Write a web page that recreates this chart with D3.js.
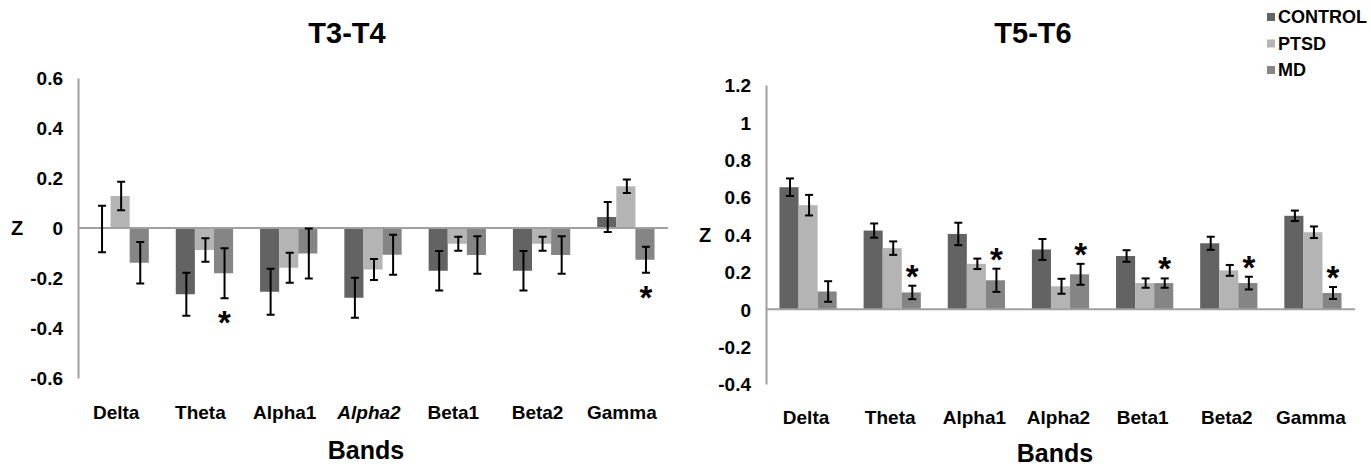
<!DOCTYPE html>
<html>
<head>
<meta charset="utf-8">
<script src="https://cdn.jsdelivr.net/npm/d3@7"></script>
<style>
  body { margin: 0; background: #fff; }
  svg text { font-family: "Liberation Sans", Arial, sans-serif; font-weight: bold; fill: #000; }
</style>
</head>
<body>
<svg id="viz" width="1371" height="467"></svg>
<script>
// Data
let bands = ['Delta', 'Theta', 'Alpha1', 'Alpha2', 'Beta1', 'Beta2', 'Gamma']
let groups = ['CONTROL', 'PTSD', 'MD']
let groupColors = ['#636363', '#b4b4b4', '#858585']

// T3-T4
let t34Control = [-0.004, -0.265, -0.255, -0.279, -0.171, -0.171, 0.044]
let t34ControlErr = [0.093, 0.086, 0.092, 0.08, 0.079, 0.079, 0.06]
let t34Ptsd = [0.128, -0.088, -0.159, -0.166, -0.063, -0.063, 0.167]
let t34PtsdErr = [0.057, 0.047, 0.06, 0.042, 0.028, 0.028, 0.027]
let t34Md = [-0.139, -0.181, -0.102, -0.107, -0.108, -0.108, -0.127]
let t34MdErr = [0.083, 0.1, 0.1, 0.08, 0.075, 0.075, 0.052]
let t34Stars = ['Theta', 'Gamma']
let t34Ticks = [0.6, 0.4, 0.2, 0, -0.2, -0.4, -0.6]

// T5-T6
let t56Control = [0.653, 0.421, 0.403, 0.32, 0.285, 0.353, 0.5]
let t56ControlErr = [0.047, 0.038, 0.06, 0.056, 0.031, 0.035, 0.028]
let t56Ptsd = [0.557, 0.327, 0.243, 0.123, 0.14, 0.208, 0.412]
let t56PtsdErr = [0.055, 0.036, 0.028, 0.04, 0.025, 0.029, 0.031]
let t56Md = [0.095, 0.09, 0.155, 0.187, 0.14, 0.14, 0.087]
let t56MdErr = [0.055, 0.036, 0.062, 0.056, 0.025, 0.034, 0.032]
let t56Stars = ['Theta', 'Alpha1', 'Alpha2', 'Beta1', 'Beta2', 'Gamma']
let t56Ticks = [1.2, 1, 0.8, 0.6, 0.4, 0.2, 0, -0.2, -0.4]

var svg = d3.select('#viz')

// draws one panel; cfg holds layout only, values come from the arrays above
let drawPanel = (cfg) => {
    let values = [cfg.control, cfg.ptsd, cfg.md]
    let errs = [cfg.controlErr, cfg.ptsdErr, cfg.mdErr]

    let rows = []
    bands.forEach((b, i) => {
        groups.forEach((g, j) => {
            rows.push({band: b, group: g, value: values[j][i], err: errs[j][i], gi: j})
        })
    })

    var x = d3.scaleBand()
        .domain(bands)
        .range([cfg.left, cfg.right])
        .paddingInner(0.32)
        .paddingOuter(0.16)

    var xSub = d3.scaleBand()
        .domain(groups)
        .range([0, x.bandwidth()])

    var y = d3.scaleLinear()
        .domain(cfg.domain)
        .range([cfg.bottom, cfg.top])

    var g = svg.append('g')

    // y axis
    var yAxis = d3.axisLeft(y)
        .tickValues(cfg.ticks)
        .tickFormat(d => d3.format('')(d).replace('\u2212', '-'))
        .tickSize(0)
        .tickSizeOuter(0)
        .tickPadding(15)

    var ay = g.append('g')
        .attr('transform', 'translate(' + cfg.left + ',0)')
        .call(yAxis)
    ay.select('.domain').attr('stroke', '#a0a0a0').attr('stroke-width', 2)
    ay.selectAll('text')
        .style('font-size', '19px')
        .attr('fill', '#000')
        .attr('dy', '0.36em')

    // bars
    g.selectAll('rect.bar')
        .data(rows)
        .enter()
        .append('rect')
        .attr('class', 'bar')
        .attr('x', d => x(d.band) + xSub(d.group))
        .attr('width', xSub.bandwidth())
        .attr('y', d => y(Math.max(0, d.value)))
        .attr('height', d => Math.abs(y(d.value) - y(0)))
        .attr('fill', d => groupColors[d.gi])

    // zero line
    g.append('line')
        .attr('x1', cfg.left).attr('x2', cfg.right)
        .attr('y1', y(0)).attr('y2', y(0))
        .attr('stroke', '#a0a0a0')
        .attr('stroke-width', 2)

    // error bars
    var eb = g.selectAll('g.err')
        .data(rows)
        .enter()
        .append('g')
        .attr('class', 'err')
        .attr('stroke', '#000')
        .attr('stroke-width', 2)
    let cx = d => x(d.band) + xSub(d.group) + xSub.bandwidth() / 2 + 1
    eb.append('line')
        .attr('x1', cx).attr('x2', cx)
        .attr('y1', d => y(d.value + d.err))
        .attr('y2', d => y(d.value - d.err))
    eb.append('line')
        .attr('x1', d => cx(d) - 4).attr('x2', d => cx(d) + 4)
        .attr('y1', d => y(d.value + d.err)).attr('y2', d => y(d.value + d.err))
    eb.append('line')
        .attr('x1', d => cx(d) - 4).attr('x2', d => cx(d) + 4)
        .attr('y1', d => y(d.value - d.err)).attr('y2', d => y(d.value - d.err))

    // significance stars on the MD bars
    let starRows = rows.filter(d => d.group === 'MD' && cfg.stars.includes(d.band))
    g.selectAll('text.star')
        .data(starRows)
        .enter()
        .append('text')
        .attr('class', 'star')
        .attr('x', d => cx(d))
        .attr('y', d => d.value < 0 ? y(d.value - d.err) + 17 + 19 : y(d.value + d.err) - 17 + 19)
        .attr('text-anchor', 'middle')
        .style('font-size', '33px')
        .text('*')

    // category labels
    g.selectAll('text.cat')
        .data(bands)
        .enter()
        .append('text')
        .attr('class', 'cat')
        .attr('x', d => x(d) + x.bandwidth() / 2 + cfg.labelShift)
        .attr('y', cfg.catY)
        .attr('text-anchor', 'middle')
        .style('font-size', '19px')
        .style('font-style', d => cfg.italic.includes(d) ? 'italic' : 'normal')
        .text(d => d)

    // titles
    g.append('text')
        .attr('x', cfg.titleX).attr('y', 43)
        .attr('text-anchor', 'middle')
        .style('font-size', '29px')
        .text(cfg.title)

    g.append('text')
        .attr('x', cfg.bandsX).attr('y', cfg.bandsY)
        .attr('text-anchor', 'middle')
        .style('font-size', '25px')
        .text('Bands')

    g.append('text')
        .attr('x', cfg.zX).attr('y', (cfg.top + cfg.bottom) / 2)
        .attr('dy', '0.36em')
        .attr('text-anchor', 'middle')
        .style('font-size', '20px')
        .text('Z')
}

drawPanel({
    control: t34Control, controlErr: t34ControlErr,
    ptsd: t34Ptsd, ptsdErr: t34PtsdErr,
    md: t34Md, mdErr: t34MdErr,
    stars: t34Stars, ticks: t34Ticks,
    domain: [-0.6, 0.6],
    left: 78, right: 668, top: 78, bottom: 378,
    catY: 419, labelShift: -4, italic: ['Alpha2'],
    title: 'T3-T4', titleX: 347,
    bandsX: 366, bandsY: 459, zX: 17
})

drawPanel({
    control: t56Control, controlErr: t56ControlErr,
    ptsd: t56Ptsd, ptsdErr: t56PtsdErr,
    md: t56Md, mdErr: t56MdErr,
    stars: t56Stars, ticks: t56Ticks,
    domain: [-0.4, 1.2],
    left: 766, right: 1355, top: 85, bottom: 384,
    catY: 424, labelShift: -2, italic: [],
    title: 'T5-T6', titleX: 1033,
    bandsX: 1055, bandsY: 462, zX: 705
})

// legend
var legend = svg.append('g')
    .selectAll('g')
    .data(groups)
    .enter()
    .append('g')
    .attr('transform', (d, i) => 'translate(1267,' + (23 + i * 26.5) + ')')
legend.append('rect')
    .attr('x', 0).attr('y', -10)
    .attr('width', 8).attr('height', 8)
    .attr('fill', (d, i) => groupColors[i])
legend.append('text')
    .attr('x', 11).attr('y', 0)
    .style('font-size', '18px')
    .text(d => d)
</script>
</body>
</html>
